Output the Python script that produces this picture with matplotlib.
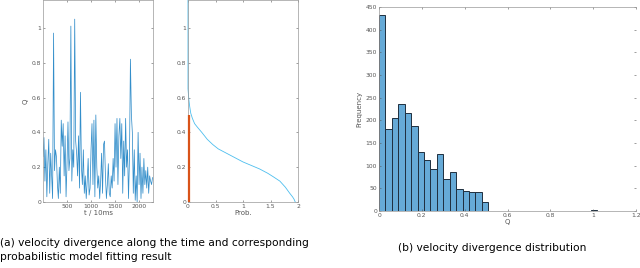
import numpy as np
import matplotlib.pyplot as plt

#%% data
t_step = 20
q_series = [0.26, 0.37, 0.12, 0.30, 0.03, 0.22, 0.36, 0.05, 0.28, 0.15,
            0.02, 0.97, 0.18, 0.30, 0.26, 0.10, 0.02, 0.20, 0.05, 0.47,
            0.32, 0.45, 0.15, 0.38, 0.03, 0.22, 0.46, 0.18, 0.25, 1.01,
            0.12, 0.30, 0.20, 1.05, 0.35, 0.28, 0.15, 0.38, 0.08, 0.63,
            0.20, 0.10, 0.30, 0.05, 0.15, 0.02, 0.12, 0.25, 0.04, 0.08,
            0.30, 0.45, 0.10, 0.47, 0.03, 0.50, 0.20, 0.08, 0.15, 0.02,
            0.12, 0.28, 0.05, 0.33, 0.35, 0.15, 0.02, 0.10, 0.22, 0.05,
            0.03, 0.15, 0.08, 0.25, 0.12, 0.45, 0.20, 0.48, 0.10, 0.38,
            0.48, 0.25, 0.45, 0.05, 0.35, 0.15, 0.48, 0.20, 0.30, 0.02,
            0.25, 0.82, 0.50, 0.40, 0.05, 0.30, 0.01, 0.15, 0.00, 0.40,
            0.10, 0.28, 0.02, 0.20, 0.05, 0.25, 0.10, 0.18, 0.08, 0.20,
            0.05, 0.15, 0.12, 0.10, 0.14]

fit_prob = [1.95, 1.93, 1.90, 1.85, 1.77, 1.67, 1.55, 1.45, 1.30, 1.15,
            1.00, 0.85, 0.70, 0.55, 0.45, 0.35, 0.25, 0.17, 0.12, 0.08,
            0.05, 0.03, 0.015, 0.005, 0.0, 0.0]
fit_q = [0.0, 0.015, 0.03, 0.05, 0.085, 0.12, 0.145, 0.165, 0.19, 0.21,
         0.23, 0.255, 0.28, 0.305, 0.33, 0.36, 0.40, 0.43, 0.45, 0.48,
         0.51, 0.55, 0.59, 0.63, 0.65, 1.16]
model_q_top = 0.5

hist_edges = [0.0, 0.03, 0.06, 0.09, 0.12, 0.15, 0.18, 0.21, 0.24, 0.27,
              0.30, 0.33, 0.36, 0.39, 0.42, 0.45, 0.48, 0.51]
hist_counts = [432, 180, 205, 237, 216, 188, 131, 113, 92, 125,
               70, 87, 48, 44, 43, 42, 19]
tail_left = [0.60, 0.75, 0.81, 0.99, 1.05]
tail_counts = [1, 1, 1, 2, 1]

#%% figure
fig = plt.figure(figsize=(6.4, 2.68), dpi=100)
tick_fs = 4.3
lab_fs = 5.0
cap_fs = 7.7
grey = '#555555'

def style(ax):
    ax.tick_params(direction='in', length=1.5, width=0.4, labelsize=tick_fs,
                   colors=grey, pad=1.5, top=True, right=True)
    for s in ax.spines.values():
        s.set_linewidth(0.5)
        s.set_color('#999999')

# time series
ax1 = fig.add_axes([43/640, 66/268, 110/640, 202/268])
t = np.arange(len(q_series)) * t_step
ax1.plot(t, q_series, color='#0072BD', lw=0.55, alpha=0.8)
ax1.set_xlim(0, 2290)
ax1.set_ylim(0, 1.16)
ax1.set_xticks([500, 1000, 1500, 2000])
ax1.set_yticks([0, 0.2, 0.4, 0.6, 0.8, 1])
ax1.set_yticklabels(['0', '0.2', '0.4', '0.6', '0.8', '1'])
ax1.set_xlabel('t / 10ms', fontsize=lab_fs, color=grey, labelpad=1)
ax1.set_ylabel('Q', fontsize=lab_fs, color=grey, labelpad=2)
style(ax1)

# model fit
ax2 = fig.add_axes([188/640, 66/268, 110/640, 202/268])
ax2.plot(fit_prob, fit_q, color='#4DBEEE', lw=0.6, clip_on=False)
ax2.plot([0.012, 0.012], [0, model_q_top], color='#D95319', lw=1.6,
         solid_capstyle='butt', clip_on=False, zorder=5)
ax2.set_xlim(0, 2)
ax2.set_ylim(0, 1.16)
ax2.set_xticks([0, 0.5, 1, 1.5, 2])
ax2.set_xticklabels(['0', '0.5', '1', '1.5', '2'])
ax2.set_yticks([0, 0.2, 0.4, 0.6, 0.8, 1])
ax2.set_yticklabels(['0', '0.2', '0.4', '0.6', '0.8', '1'])
ax2.set_xlabel('Prob.', fontsize=lab_fs, color=grey, labelpad=1)
style(ax2)

# histogram
ax3 = fig.add_axes([379/640, 57/268, 257/640, 204/268])
ax3.bar(hist_edges[:-1], hist_counts, width=0.03, align='edge',
        color='#66AAD7', edgecolor='#1f2f3f', lw=0.7)
ax3.bar(tail_left, tail_counts, width=0.03, align='edge',
        color='#66AAD7', edgecolor='#1f2f3f', lw=0.7)
ax3.set_xlim(0, 1.2)
ax3.set_ylim(0, 450)
ax3.set_xticks([0, 0.2, 0.4, 0.6, 0.8, 1, 1.2])
ax3.set_xticklabels(['0', '0.2', '0.4', '0.6', '0.8', '1', '1.2'])
ax3.set_yticks(np.arange(0, 451, 50))
ax3.set_xlabel('Q', fontsize=lab_fs, color=grey, labelpad=1)
ax3.set_ylabel('Frequency', fontsize=lab_fs, color=grey, labelpad=2)
style(ax3)
ax3.spines['right'].set_visible(False)

# captions
fig.text(0.0, 1 - 243/268, '(a) velocity divergence along the time and corresponding',
         fontsize=cap_fs, va='center', ha='left')
fig.text(0.0, 1 - 257/268, 'probabilistic model fitting result',
         fontsize=cap_fs, va='center', ha='left')
fig.text(492/640, 1 - 248/268, '(b) velocity divergence distribution',
         fontsize=cap_fs, va='center', ha='center')

fig.savefig('out.png', dpi=100)
